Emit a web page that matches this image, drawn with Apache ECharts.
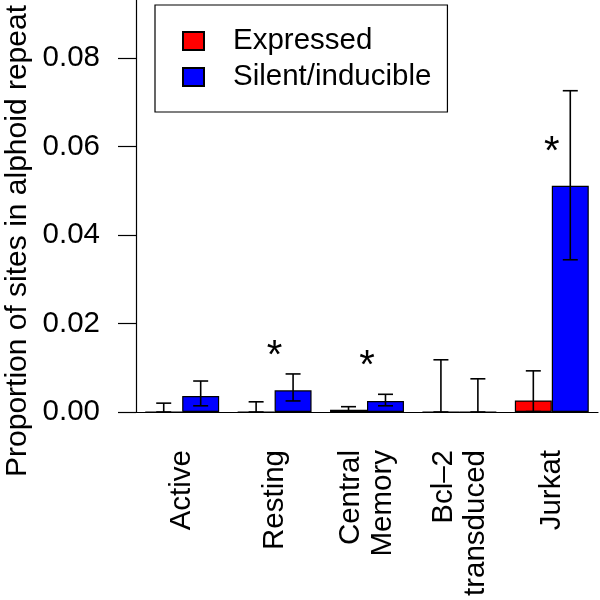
<!DOCTYPE html>
<html>
<head>
<meta charset="utf-8">
<script src="https://cdn.jsdelivr.net/npm/echarts@6/dist/echarts.min.js"></script>
<style>html,body{margin:0;padding:0;background:#fff}#c{width:600px;height:600px}</style>
</head>
<body>
<div id="c"></div>
<script>
var categories = ['Active', 'Resting', 'Central\nMemory', 'Bcl\u20132\ntransduced', 'Jurkat'];
var seriesNames = ['Expressed', 'Silent/inducible'];
var expressed = [0, 0, 0.0005, 0, 0.0026];
var expressedLow = [0, 0, 0.0001, 0, 0.0001];
var expressedHigh = [0.0020, 0.0023, 0.0012, 0.0118, 0.0093];
var silent = [0.0036, 0.0049, 0.0025, 0, 0.0511];
var silentLow = [0.0014, 0.0025, 0.0014, 0, 0.0344];
var silentHigh = [0.0070, 0.0086, 0.0040, 0.0075, 0.0726];
var stars = [null, 0.0147, 0.0124, null, 0.0608];
var yTicks = [0, 0.02, 0.04, 0.06, 0.08];
var yTitle = 'Proportion of sites in alphoid repeat';

var FONT = 'Liberation Sans, Arial, sans-serif';
var FS = 29.5;

function errData(low, high) {
  return categories.map(function (c, i) { return [i, low[i], high[i]]; });
}
function errRender(side) {
  return function (params, api) {
    var i = api.value(0);
    var catW = api.size([1, 0])[0];
    var x = api.coord([i, 0])[0] + side * catW * 0.2;
    var yl = api.coord([i, api.value(1)])[1];
    var yh = api.coord([i, api.value(2)])[1];
    var cap = 7.5;
    var st = { stroke: '#000', lineWidth: 1.6 };
    return {
      type: 'group',
      children: [
        { type: 'line', shape: { x1: x, y1: yl, x2: x, y2: yh }, style: st },
        { type: 'line', shape: { x1: x - cap, y1: yh, x2: x + cap, y2: yh }, style: st },
        { type: 'line', shape: { x1: x - cap, y1: yl, x2: x + cap, y2: yl }, style: st }
      ]
    };
  };
}
var starData = [];
stars.forEach(function (v, i) { if (v !== null) starData.push([i, v]); });

var chart = echarts.init(document.getElementById('c'), null, { renderer: 'canvas' });
chart.setOption({
  animation: false,
  backgroundColor: '#fff',
  textStyle: { fontFamily: FONT, color: '#000' },
  grid: { left: 136, right: 2, top: 0, bottom: 188, containLabel: false, outerBoundsMode: 'none' },
  legend: {
    data: seriesNames,
    orient: 'vertical',
    left: 155,
    top: 5,
    padding: [21, 16, 20, 27],
    itemGap: 6,
    itemWidth: 21,
    itemHeight: 18,
    icon: 'rect',
    borderColor: '#000',
    borderWidth: 1.2,
    textStyle: { fontSize: FS, color: '#000', fontFamily: FONT, padding: [0, 0, 0, 24] }
  },
  xAxis: {
    type: 'category',
    data: categories,
    axisLine: { lineStyle: { color: '#000', width: 1.2 } },
    axisTick: { alignWithLabel: true, length: 18, lineStyle: { color: '#000', width: 1.2 } },
    axisLabel: { rotate: 90, margin: 38, fontSize: FS, lineHeight: 32, color: '#000', fontFamily: FONT, interval: 0 },
    splitLine: { show: false }
  },
  yAxis: {
    type: 'value',
    min: 0,
    max: 0.0931,
    axisLine: { show: true, lineStyle: { color: '#000', width: 1.2 } },
    axisTick: { show: true, length: 18, customValues: yTicks, lineStyle: { color: '#000', width: 1.2 } },
    axisLabel: { margin: 36, fontSize: FS, color: '#000', fontFamily: FONT, customValues: yTicks,
      formatter: function (v) { return v.toFixed(2); } },
    splitLine: { show: false }
  },
  graphic: [{
    type: 'text',
    x: 18, y: 241,
    rotation: Math.PI / 2,
    style: { text: yTitle, font: '30px ' + FONT, fill: '#000', textAlign: 'center', textVerticalAlign: 'middle' }
  }],
  series: [
    { name: seriesNames[0], type: 'bar', data: expressed, barWidth: '40%', barGap: '0%',
      itemStyle: { color: '#ff0000', borderColor: '#000', borderWidth: 1.2 } },
    { name: seriesNames[1], type: 'bar', data: silent, barWidth: '40%', barGap: '0%',
      itemStyle: { color: '#0000ff', borderColor: '#000', borderWidth: 1.2 } },
    { type: 'custom', renderItem: errRender(-1), data: errData(expressedLow, expressedHigh),
      encode: { x: 0, y: [1, 2] }, z: 5, silent: true },
    { type: 'custom', renderItem: errRender(1), data: errData(silentLow, silentHigh),
      encode: { x: 0, y: [1, 2] }, z: 5, silent: true },
    { type: 'custom', data: starData, encode: { x: 0, y: 1 }, z: 6, silent: true,
      renderItem: function (params, api) {
        var p = api.coord([api.value(0), api.value(1)]);
        return { type: 'text', x: p[0], y: p[1] + 10,
          style: { text: '*', font: '40px ' + FONT, fill: '#000', textAlign: 'center', textVerticalAlign: 'middle' } };
      } }
  ]
});
</script>
</body>
</html>
